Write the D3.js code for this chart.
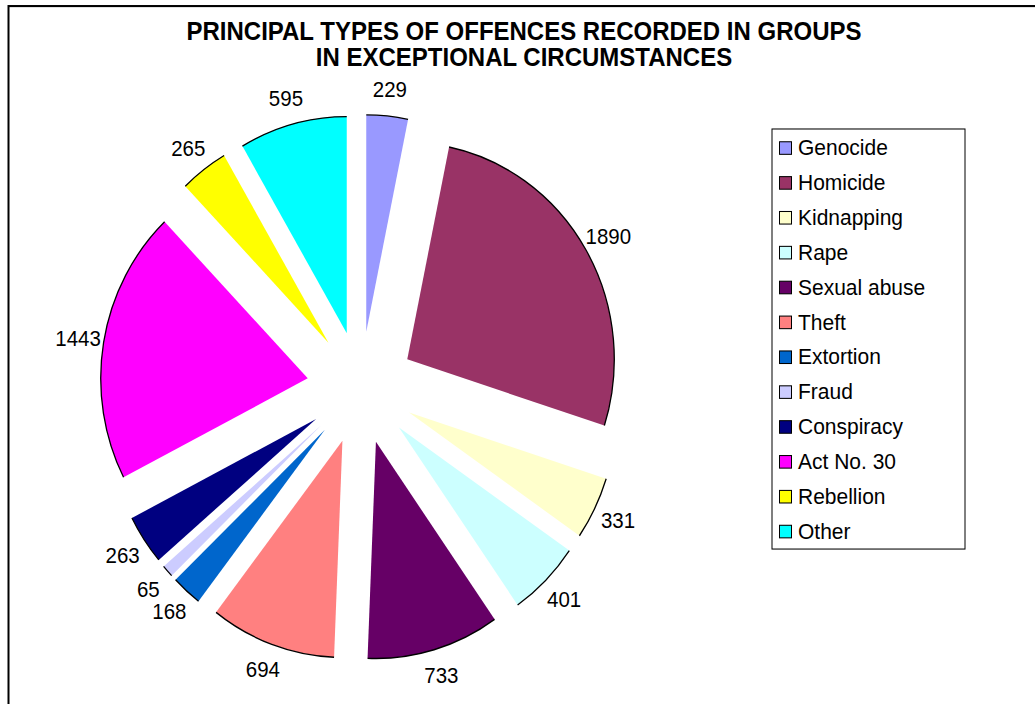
<!DOCTYPE html>
<html>
<head>
<meta charset="utf-8">
<script src="https://cdn.jsdelivr.net/npm/d3@7"></script>
<style>
  html, body { margin: 0; padding: 0; background: #fff; }
  svg { display: block; font-family: "Liberation Sans", Arial, sans-serif; }
</style>
</head>
<body>
<svg id="chart" width="1035" height="704"></svg>
<script>
const titleLines = ["PRINCIPAL TYPES OF OFFENCES RECORDED IN GROUPS", "IN EXCEPTIONAL CIRCUMSTANCES"];
const categories = ["Genocide", "Homicide", "Kidnapping", "Rape", "Sexual abuse", "Theft", "Extortion", "Fraud", "Conspiracy", "Act No. 30", "Rebellion", "Other"];
const values = [229, 1890, 331, 401, 733, 694, 168, 65, 263, 1443, 265, 595];
const colors = ["#9999FF", "#993366", "#FFFFCC", "#CCFFFF", "#660066", "#FF8080", "#0066CC", "#CCCCFF", "#000080", "#FF00FF", "#FFFF00", "#00FFFF"];

const W = 1035, H = 704;
const sy = 1.047;           // vertical stretch of the reference picture
const svg = d3.select("#chart");
const root = svg.append("g").attr("transform", `scale(1,${sy})`);

// chart area border (top and left visible)
root.append("rect")
  .attr("x", 8.5).attr("y", 5.8)
  .attr("width", 1100).attr("height", 800)
  .attr("fill", "none").attr("stroke", "#000").attr("stroke-width", 2);

// title
const title = root.append("text")
  .attr("text-anchor", "middle")
  .attr("font-weight", "bold")
  .attr("font-size", 24)
  .attr("fill", "#000");
titleLines.forEach((t, i) => {
  title.append("tspan").attr("x", 524).attr("y", 38.2 + i * 24.4).text(t);
});

// pie
const cx = 360.8, cy = 370.3, R = 207, explode = 0.26 * R, labelR = 1.125 * R;
const pie = d3.pie().sort(null).value(d => d)(values);
const arcGen = d3.arc().innerRadius(0).outerRadius(R);
const pieG = root.append("g").attr("transform", `translate(${cx},${cy})`);

const slices = pieG.selectAll("g.slice").data(pie).join("g")
  .attr("class", "slice")
  .attr("transform", d => {
    const m = (d.startAngle + d.endAngle) / 2;
    return `translate(${explode * Math.sin(m)},${-explode * Math.cos(m)})`;
  });

slices.append("path")
  .attr("d", arcGen)
  .attr("fill", (d, i) => colors[i])
  .attr("stroke", "none");

slices.append("path")
  .attr("d", d => {
    const p = d3.path();
    p.arc(0, 0, R, d.startAngle - Math.PI / 2, d.endAngle - Math.PI / 2);
    return p.toString();
  })
  .attr("fill", "none")
  .attr("stroke", "#000")
  .attr("stroke-width", 1.3);

// value labels
pieG.selectAll("text.val").data(pie).join("text")
  .attr("class", "val")
  .attr("x", d => {
    const m = (d.startAngle + d.endAngle) / 2;
    return (explode + labelR) * Math.sin(m);
  })
  .attr("y", d => {
    const m = (d.startAngle + d.endAngle) / 2;
    return -(explode + labelR) * Math.cos(m);
  })
  .attr("text-anchor", "middle")
  .attr("dominant-baseline", "central")
  .attr("font-size", 20.5)
  .attr("fill", "#000")
  .text(d => d.data);

// legend
const lx = 772, ly = 123.2, lw = 193, lh = 401.2;
root.append("rect")
  .attr("x", lx).attr("y", ly).attr("width", lw).attr("height", lh)
  .attr("fill", "#fff").attr("stroke", "#000").attr("stroke-width", 1);

const step = 33.3;
const items = root.selectAll("g.leg").data(categories).join("g")
  .attr("class", "leg")
  .attr("transform", (d, i) => `translate(${lx},${ly + 18.2 + i * step})`);
items.append("rect")
  .attr("x", 7.5).attr("y", -6).attr("width", 12).attr("height", 12)
  .attr("fill", (d, i) => colors[i])
  .attr("stroke", "#000").attr("stroke-width", 1);
items.append("text")
  .attr("x", 26).attr("y", 0)
  .attr("dominant-baseline", "central")
  .attr("font-size", 21)
  .attr("fill", "#000")
  .text(d => d);
</script>
</body>
</html>
